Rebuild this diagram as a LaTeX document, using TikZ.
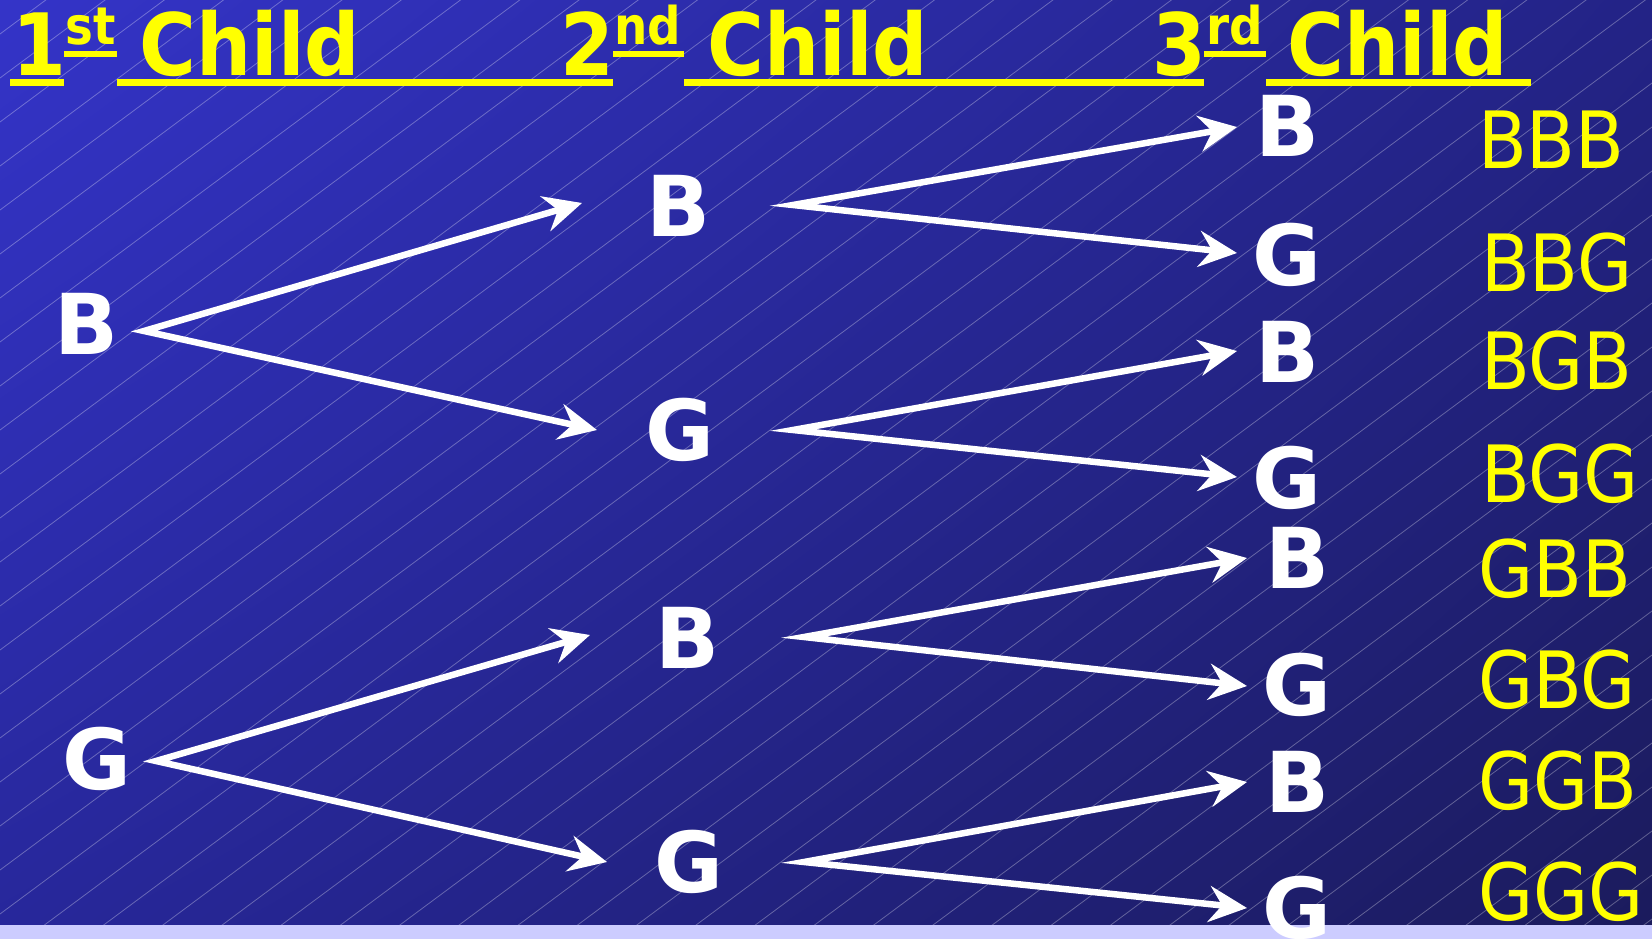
\documentclass[tikz,border=0pt]{standalone}
\usepackage{fontspec}
\setmainfont{DejaVu Sans Condensed}
\newfontfamily\widefont{DejaVu Sans}
\usetikzlibrary{arrows.meta,shadings}
\definecolor{bgUL}{HTML}{3434C8}
\definecolor{bgUR}{HTML}{232386}
\definecolor{bgLL}{HTML}{27279A}
\definecolor{bgLR}{HTML}{1B1B5C}
\definecolor{strip}{HTML}{CCCCFF}
\definecolor{hyellow}{HTML}{FFFF00}
\tikzset{
  letter/.style={inner sep=0pt, anchor=base, text=white, font=\fontsize{84}{90}\selectfont\widefont\bfseries},
  hdr/.style={inner sep=0pt, anchor=base, text=hyellow, font=\fontsize{86}{90}\selectfont\bfseries},
  hsup/.style={inner sep=0pt, anchor=base, text=hyellow, font=\fontsize{52}{56}\selectfont\bfseries},
  uline/.style={fill=hyellow},
  combo/.style={inner sep=0pt, anchor=base west, text=hyellow, font=\fontsize{79}{86}\selectfont},
  branch/.style={draw=white, line width=6.5pt, line join=miter,
    arrows={Stealth[length=38pt,width=36pt,inset=13pt]-Stealth[length=38pt,width=36pt,inset=13pt]}},
  bgline/.style={draw=white, draw opacity=0.3, line width=0.8pt}
}
\begin{document}
\begin{tikzpicture}[x=1pt,y=-1pt]
\useasboundingbox (0,0) rectangle (1652,939);
% background
\shade[upper left=bgUL, upper right=bgUR, lower left=bgLL, lower right=bgLR] (0,0) rectangle (1652,939);
\begin{scope}
  \clip (0,0) rectangle (1652,925);
  \foreach \k in {-16,...,36} \draw[bgline] (0,{650+44*\k}) -- (1652,{650+44*\k-1227});
\end{scope}
\fill[strip] (0,925) rectangle (1652,939);

% header
\node[hdr]  (h1)  at (39,76)    {1};
\node[hsup] (h1s) at (91,45)    {st};
\node[hdr]  (h1c) at (250,76)   {Child};
\node[hdr]  (h2)  at (587,76)   {2};
\node[hsup] (h2s) at (648,45)   {nd};
\node[hdr]  (h2c) at (818,76)   {Child};
\node[hdr]  (h3)  at (1179,76)  {3};
\node[hsup] (h3s) at (1235,45)  {rd};
\node[hdr]  (h3c) at (1398,76)  {Child};
\fill[uline] (10,79) rectangle (64,86);
\fill[uline] (64,51) rectangle (117,57);
\fill[uline] (117,79) rectangle (613,86);
\fill[uline] (613,51) rectangle (684,57);
\fill[uline] (684,79) rectangle (1204,86);
\fill[uline] (1204,51) rectangle (1266,57);
\fill[uline] (1266,79) rectangle (1531,86);

% level 1
\node[letter] (a)  at (87,354)  {B};
\node[letter] (b)  at (97,789)  {G};
% level 2
\node[letter] (ab) at (679,236) {B};
\node[letter] (ag) at (680,460) {G};
\node[letter] (bb) at (688,668) {B};
\node[letter] (bg) at (689,892) {G};
% level 3
\node[letter] (abb) at (1287,157) {B};
\node[letter] (abg) at (1287,285) {G};
\node[letter] (agb) at (1287,382) {B};
\node[letter] (agg) at (1287,508) {G};
\node[letter] (bbb) at (1297,588) {B};
\node[letter] (bbg) at (1297,715) {G};
\node[letter] (bgb) at (1297,812) {B};
\node[letter] (bgg) at (1297,938) {G};

% connector ports
\coordinate (a-out)   at (144,331);
\coordinate (b-out)   at (156,761);
\coordinate (ab-in)   at (582,203);
\coordinate (ag-in)   at (597,430);
\coordinate (bb-in)   at (590,635);
\coordinate (bg-in)   at (607,862);
\coordinate (ab-out)  at (793,205);
\coordinate (ag-out)  at (793,430);
\coordinate (bb-out)  at (804,637);
\coordinate (bg-out)  at (804,862);
\coordinate (abb-in)  at (1237,127);
\coordinate (abg-in)  at (1237,253);
\coordinate (agb-in)  at (1237,351);
\coordinate (agg-in)  at (1237,477);
\coordinate (bbb-in)  at (1247,558);
\coordinate (bbg-in)  at (1247,686);
\coordinate (bgb-in)  at (1247,782);
\coordinate (bgg-in)  at (1247,908);

\draw[branch] (ab-in) -- (a-out) -- (ag-in);
\draw[branch] (bb-in) -- (b-out) -- (bg-in);
\draw[branch] (abb-in) -- (ab-out) -- (abg-in);
\draw[branch] (agb-in) -- (ag-out) -- (agg-in);
\draw[branch] (bbb-in) -- (bb-out) -- (bbg-in);
\draw[branch] (bgb-in) -- (bg-out) -- (bgg-in);

% outcomes
\node[combo] (o1) at (1478,168) {BBB};
\node[combo] (o2) at (1481,291) {BBG};
\node[combo] (o3) at (1481,389) {BGB};
\node[combo] (o4) at (1481,502) {BGG};
\node[combo] (o5) at (1478,597) {GBB};
\node[combo] (o6) at (1478,708) {GBG};
\node[combo] (o7) at (1478,809) {GGB};
\node[combo] (o8) at (1478,920) {GGG};
\end{tikzpicture}
\end{document}
